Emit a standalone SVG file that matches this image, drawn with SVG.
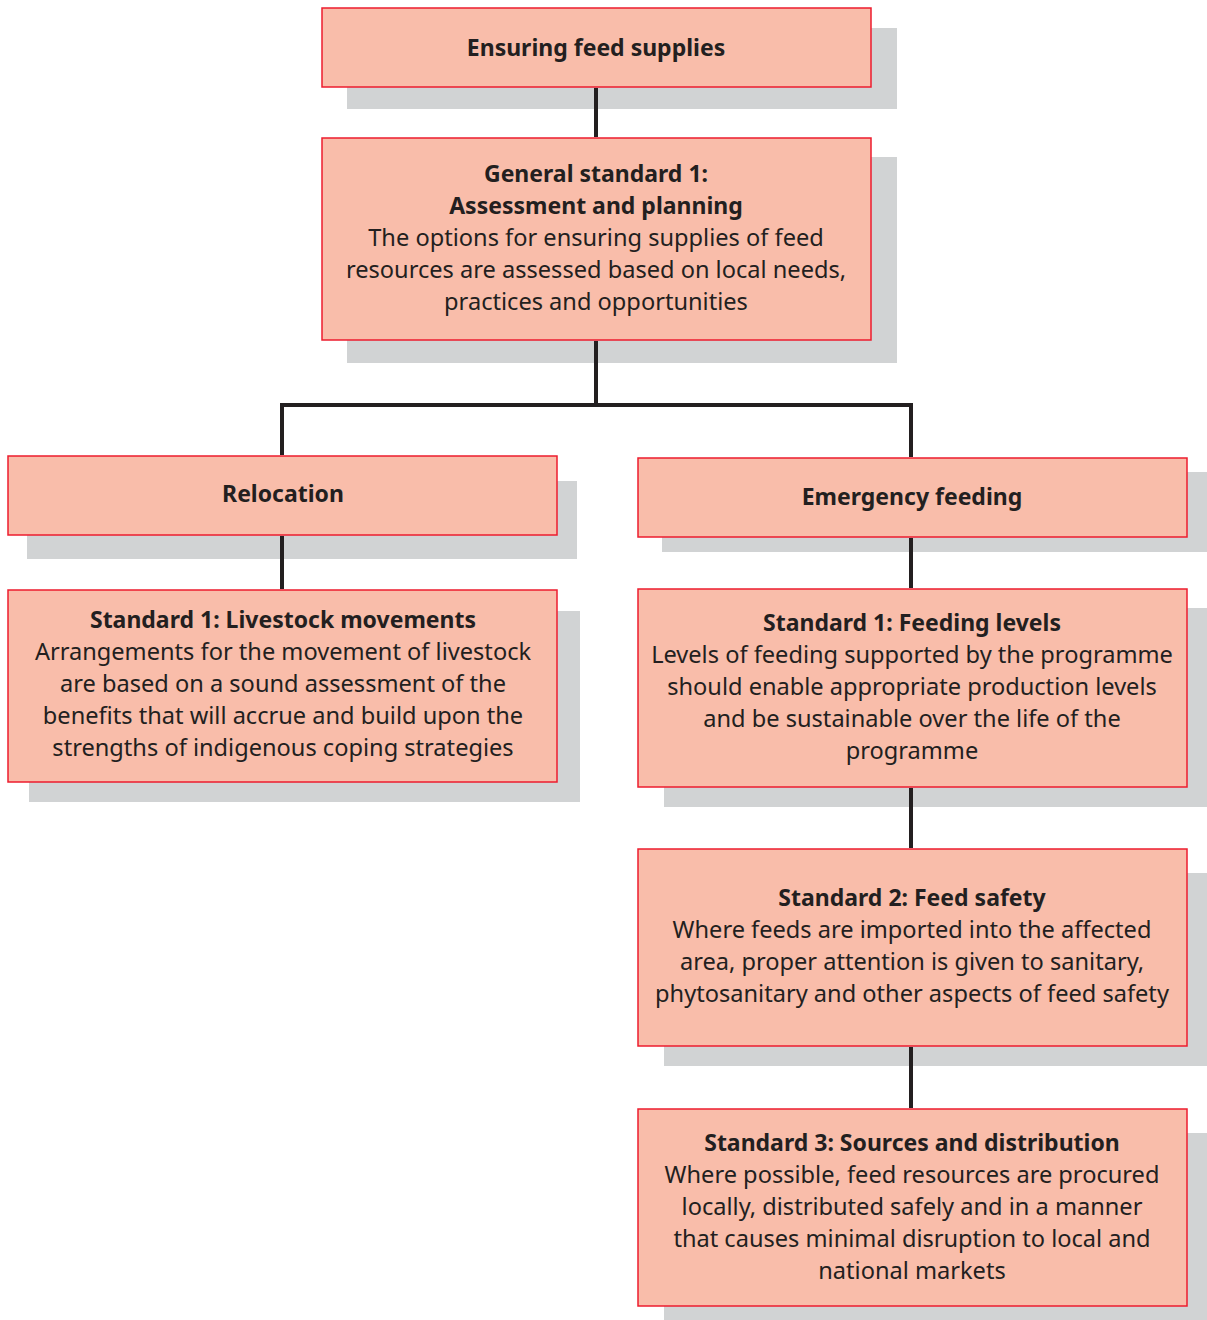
<svg xmlns="http://www.w3.org/2000/svg" width="1207" height="1320" viewBox="0 0 1207 1320">
<style>
.sh{fill:#d1d3d4}
.bx{fill:#f9bdaa;stroke:#ed1c2e;stroke-width:1.5}
.t{font-family:"Noto Sans","Open Sans",sans-serif;font-size:23.6px;fill:#231f20;text-anchor:middle}
.b{font-weight:bold;font-size:23px}
.c{stroke:#231f20;stroke-width:4;fill:none}
</style>
<rect width="1207" height="1320" fill="#fff"/>
<g id="n1">
<rect class="sh" x="347" y="28" width="550" height="81"/>
<rect class="bx" x="322" y="8" width="549" height="79"/>
<text class="t b" x="596" y="56">Ensuring feed supplies</text>
</g>
<g id="n2">
<rect class="sh" x="347" y="157" width="550" height="206"/>
<rect class="bx" x="322" y="138" width="549" height="202"/>
<text class="t" x="596" y="182"><tspan class="b" x="596">General standard 1:</tspan><tspan class="b" x="596" dy="32">Assessment and planning</tspan><tspan x="596" dy="32">The options for ensuring supplies of feed</tspan><tspan x="596" dy="32">resources are assessed based on local needs,</tspan><tspan x="596" dy="32">practices and opportunities</tspan></text>
</g>
<g id="n3">
<rect class="sh" x="27" y="481" width="550" height="78"/>
<rect class="bx" x="8" y="456" width="549" height="79"/>
<text class="t b" x="283" y="502">Relocation</text>
</g>
<g id="n4">
<rect class="sh" x="662" y="472" width="545" height="80"/>
<rect class="bx" x="638" y="458" width="549" height="79"/>
<text class="t b" x="912" y="505">Emergency feeding</text>
</g>
<g id="n5">
<rect class="sh" x="29" y="611" width="551" height="191"/>
<rect class="bx" x="8" y="590" width="549" height="192"/>
<text class="t" x="283" y="628"><tspan class="b" x="283">Standard 1: Livestock movements</tspan><tspan x="283" dy="32">Arrangements for the movement of livestock</tspan><tspan x="283" dy="32">are based on a sound assessment of the</tspan><tspan x="283" dy="32">benefits that will accrue and build upon the</tspan><tspan x="283" dy="32">strengths of indigenous coping strategies</tspan></text>
</g>
<g id="n6">
<rect class="sh" x="664" y="608" width="543" height="199"/>
<rect class="bx" x="638" y="589" width="549" height="198"/>
<text class="t" x="912" y="631"><tspan class="b" x="912">Standard 1: Feeding levels</tspan><tspan x="912" dy="32">Levels of feeding supported by the programme</tspan><tspan x="912" dy="32">should enable appropriate production levels</tspan><tspan x="912" dy="32">and be sustainable over the life of the</tspan><tspan x="912" dy="32">programme</tspan></text>
</g>
<g id="n7">
<rect class="sh" x="664" y="873" width="543" height="193"/>
<rect class="bx" x="638" y="849" width="549" height="197"/>
<text class="t" x="912" y="906"><tspan class="b" x="912">Standard 2: Feed safety</tspan><tspan x="912" dy="32">Where feeds are imported into the affected</tspan><tspan x="912" dy="32">area, proper attention is given to sanitary,</tspan><tspan x="912" dy="32">phytosanitary and other aspects of feed safety</tspan></text>
</g>
<g id="n8">
<rect class="sh" x="664" y="1133" width="543" height="187"/>
<rect class="bx" x="638" y="1109" width="549" height="197"/>
<text class="t" x="912" y="1151"><tspan class="b" x="912">Standard 3: Sources and distribution</tspan><tspan x="912" dy="32">Where possible, feed resources are procured</tspan><tspan x="912" dy="32">locally, distributed safely and in a manner</tspan><tspan x="912" dy="32">that causes minimal disruption to local and</tspan><tspan x="912" dy="32">national markets</tspan></text>
</g>
<g id="connectors">
<path class="c" d="M596 88V137M596 341V405M282 455V405H911V457M282 536V589M911 538V588M911 788V848M911 1047V1108"/>
</g>
</svg>
